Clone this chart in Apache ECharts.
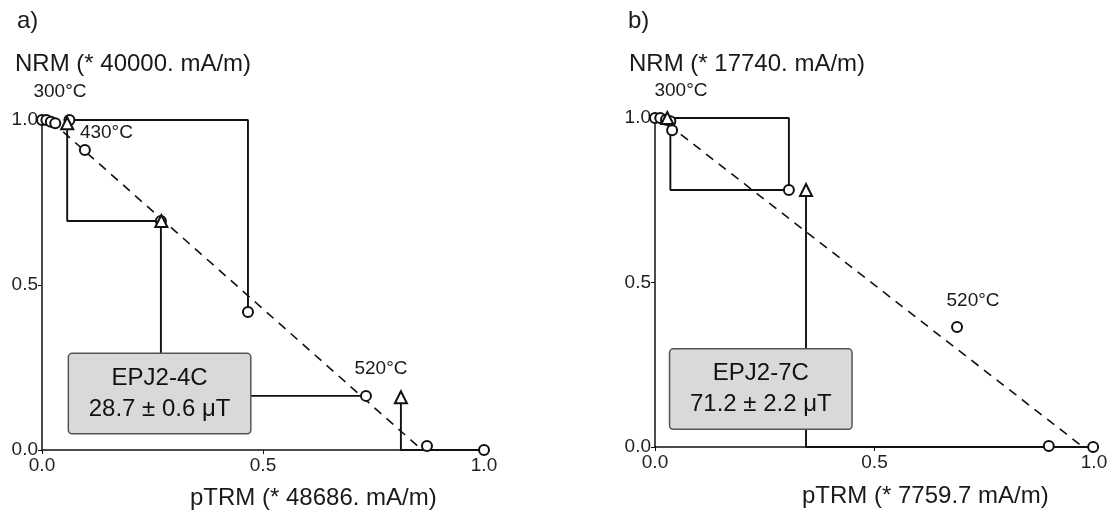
<!DOCTYPE html>
<html><head><meta charset="utf-8">
<script src="https://cdn.jsdelivr.net/npm/echarts@6/dist/echarts.min.js"></script>
<style>html,body{margin:0;padding:0;background:#fff}#c{width:1114px;height:516px}</style>
</head><body><div id="c"></div>
<script>
// ---------- data ----------
const tickValues = [0, 0.5, 1.0];

// Panel a) EPJ2-4C  (pTRM gained, NRM remaining)
const aCircles = [[0,1.0],[0.01,1.0],[0.02,0.995],[0.03,0.99],[0.062,1.0],[0.097,0.909],[0.269,0.694],[0.466,0.418],[0.733,0.164],[0.871,0.012],[1.0,0.0]];
const aTriangles = [[0.057,0.99],[0.27,0.694],[0.812,0.16]];
const aCheck1 = [[0.466,0.418],[0.466,1.0],[0.057,1.0]];
const aCheck2 = [[0.057,1.0],[0.057,0.694],[0.269,0.694]];
const aCheck3 = [[0.269,0.694],[0.269,0.164],[0.733,0.164]];
const aCheck4 = [[0.812,0.16],[0.812,0.0],[1.0,0.0]];
const aFit = [[0.048,0.964],[0.86,0.0]];
const aTempNames = ['300°C','430°C','520°C'];
const aTempAnchors = [[0,1.0],[0.062,1.0],[0.733,0.164]];
const aBoxText = ['EPJ2-4C','28.7 ± 0.6 μT'];
const aBoxAnchor = [0.266,0.171];
const aNrmName = 'NRM (* 40000. mA/m)';
const aPtrmName = 'pTRM (* 48686. mA/m)';

// Panel b) EPJ2-7C
const bCircles = [[0,1.0],[0.012,1.0],[0.025,0.995],[0.035,0.99],[0.039,0.963],[0.305,0.781],[0.688,0.365],[0.897,0.003],[0.998,0.0]];
const bTriangles = [[0.028,1.0],[0.344,0.781]];
const bCheck1 = [[0.305,0.781],[0.305,1.0],[0.035,1.0],[0.035,0.781],[0.305,0.781]];
const bCheck2 = [[0.344,0.781],[0.344,0.0],[0.998,0.0]];
const bFit = [[0.03,0.98],[0.975,0.0]];
const bTempNames = ['300°C','520°C'];
const bTempAnchors = [[0,1.0],[0.688,0.365]];
const bBoxText = ['EPJ2-7C','71.2 ± 2.2 μT'];
const bBoxAnchor = [0.241,0.176];
const bNrmName = 'NRM (* 17740. mA/m)';
const bPtrmName = 'pTRM (* 7759.7 mA/m)';

// ---------- styling / option ----------
const FF = '"Liberation Sans", Arial, Helvetica, sans-serif';
const INK = '#111111';
const aTempOffsets = [[18,-28],[37,13],[15,-27]];
const bTempOffsets = [[26,-27],[16,-26]];

function axisCommon(gridIndex, isX) {
  return {
    gridIndex, type: 'value', min: 0, max: 1, interval: 0.5,
    splitLine: {show: false},
    axisLine: {show: true, onZero: false, lineStyle: {color: INK, width: 1.5}},
    axisTick: {show: true, length: 4, lineStyle: {color: INK, width: 1}},
    axisLabel: {fontFamily: FF, fontSize: 19, color: '#222', margin: isX ? 6 : 4,
      formatter: v => tickValues.includes(v) ? v.toFixed(1) : ''}
  };
}

function lineSeries(idx, data, dashed) {
  return {
    type: 'line', xAxisIndex: idx, yAxisIndex: idx, data, symbol: 'none',
    z: 2, silent: true, animation: false,
    lineStyle: {color: INK, width: dashed ? 1.6 : 1.9, type: dashed ? [9, 7] : 'solid', opacity: 1}
  };
}
function pointSeries(idx, data, symbol, size) {
  return {
    type: 'scatter', xAxisIndex: idx, yAxisIndex: idx, data, symbol, symbolSize: size,
    z: 3, clip: false, animation: false, silent: true,
    itemStyle: {color: INK, borderWidth: 1.6, opacity: 1}
  };
}
function tempSeries(idx, names, anchors, offsets) {
  return {
    type: 'scatter', xAxisIndex: idx, yAxisIndex: idx, symbolSize: 0, z: 4, clip: false,
    animation: false, silent: true,
    itemStyle: {opacity: 1},
    data: anchors.map((p, i) => ({value: p, label: {formatter: names[i], offset: offsets[i]}})),
    label: {show: true, position: 'inside', fontFamily: FF, fontSize: 19, color: '#1a1a1a'}
  };
}
function boxSeries(idx, anchor, lines) {
  return {
    type: 'scatter', xAxisIndex: idx, yAxisIndex: idx, symbolSize: 0, z: 10, clip: false,
    animation: false, silent: true,
    itemStyle: {opacity: 1},
    data: [{value: anchor}],
    label: {show: true, position: 'inside', formatter: lines.join('\n'),
      fontFamily: FF, fontSize: 24, lineHeight: 31, color: '#111', align: 'center',
      width: 181, padding: [8, 0, 9, 0],
      backgroundColor: '#d9d9d9', borderColor: '#555', borderWidth: 1.5, borderRadius: 3}
  };
}
function titleText(text, left, top, size) {
  return {text, left, top, padding: 0,
    textStyle: {fontFamily: FF, fontSize: size, fontWeight: 'normal', color: '#1a1a1a'}};
}

const option = {
  animation: false,
  backgroundColor: '#ffffff',
  title: [
    titleText('a)', 17, 9, 24),
    titleText(aNrmName, 15, 52, 24),
    titleText(aPtrmName, 190, 486, 24),
    titleText('b)', 628, 9, 24),
    titleText(bNrmName, 629, 52, 24),
    titleText(bPtrmName, 802, 484, 24)
  ],
  grid: [
    {left: 42, top: 120, width: 442, height: 330},
    {left: 655, top: 118, width: 439, height: 329}
  ],
  xAxis: [axisCommon(0, true), axisCommon(1, true)],
  yAxis: [axisCommon(0, false), axisCommon(1, false)],
  series: [
    lineSeries(0, aCheck1), lineSeries(0, aCheck2), lineSeries(0, aCheck3), lineSeries(0, aCheck4),
    lineSeries(0, aFit, true),
    pointSeries(0, aCircles, 'emptyCircle', 10),
    pointSeries(0, aTriangles, 'emptyTriangle', 12),
    tempSeries(0, aTempNames, aTempAnchors, aTempOffsets),
    boxSeries(0, aBoxAnchor, aBoxText),

    lineSeries(1, bCheck1), lineSeries(1, bCheck2),
    lineSeries(1, bFit, true),
    pointSeries(1, bCircles, 'emptyCircle', 10),
    pointSeries(1, bTriangles, 'emptyTriangle', 12),
    tempSeries(1, bTempNames, bTempAnchors, bTempOffsets),
    boxSeries(1, bBoxAnchor, bBoxText)
  ]
};
const chart = echarts.init(document.getElementById('c'), null, {renderer: 'canvas'});
chart.setOption(option);
</script>
</body></html>
